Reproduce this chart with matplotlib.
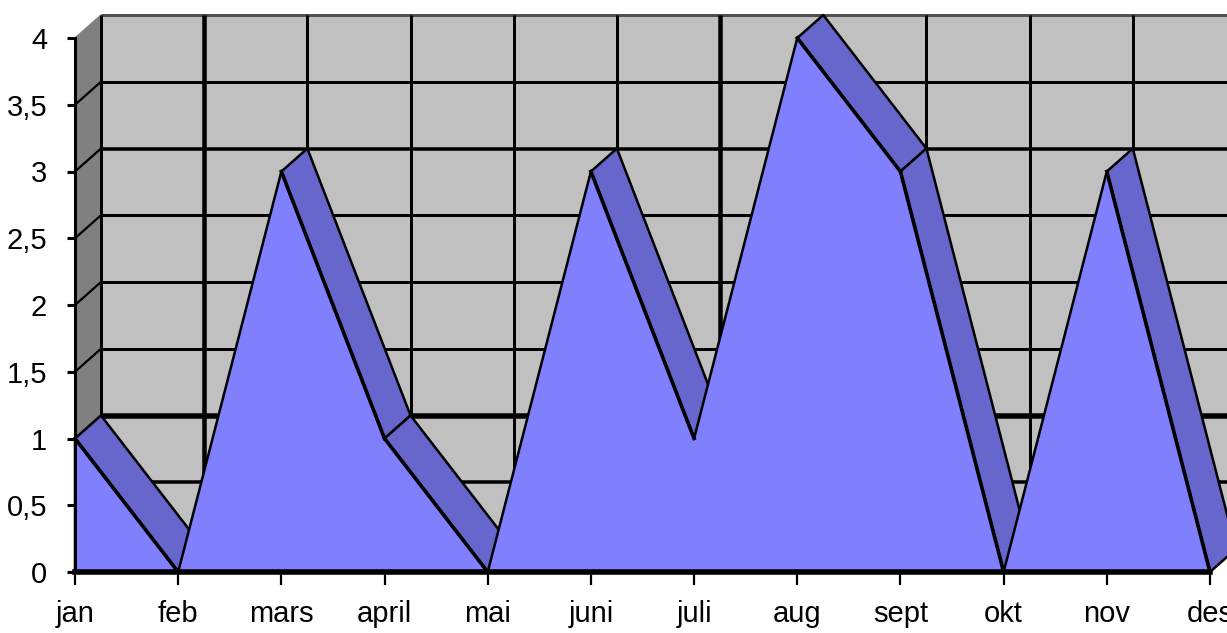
import matplotlib
matplotlib.use("Agg")
import matplotlib.pyplot as plt

months = ["jan", "feb", "mars", "april", "mai", "juni", "juli", "aug", "sept", "okt", "nov", "des"]
values = [1, 0, 3, 1, 0, 3, 1, 4, 3, 0, 3, 0]
y_ticks = [0, 0.5, 1, 1.5, 2, 2.5, 3, 3.5, 4]
y_labels = ["0", "0,5", "1", "1,5", "2", "2,5", "3", "3,5", "4"]

# pixels per data unit, the whole figure is the axes
px_x = 103.18
px_y = 133.5
x0_px = 75
y0_px = 572
# 3d depth
dx = 26 / px_x
dy = 23 / px_y

# line widths in pixels for the back wall grid
hgrid_lw = {0: 3, 0.5: 3.5, 1: 5.5, 1.5: 3, 2: 3, 2.5: 3, 3: 3.5, 3.5: 3, 4: 3}
vgrid_lw = [3, 4.5, 3, 3, 3, 3, 4.5, 2.5, 3, 3, 3, 3]

plt.rcParams["font.family"] = ["Liberation Sans", "DejaVu Sans"]

fig = plt.figure(figsize=(12.27, 6.33), dpi=100)
ax = fig.add_axes([0, 0, 1, 1])
ax.set_xlim(-x0_px / px_x, (1227 - x0_px) / px_x)
ax.set_ylim((y0_px - 633) / px_y, y0_px / px_y)
ax.patch.set_visible(False)

n = len(months) - 1
top = max(y_ticks)

# back wall and side wall
ax.fill([dx, n + dx, n + dx, dx], [dy, dy, top + dy, top + dy], color="#C0C0C0", zorder=1)
ax.fill([0, dx, dx, 0], [0, dy, top + dy, top], color="#808080", zorder=1)

for y in y_ticks:
    color = "#505050" if y == top else "black"
    ax.plot([dx, n + dx], [y + dy, y + dy], color=color, lw=hgrid_lw[y] * 0.72, zorder=1.1,
            solid_capstyle="butt")
    if y != top:
        ax.plot([0, dx], [y, y + dy], color="black", lw=1.6, zorder=1.1)
for i in range(len(months)):
    ax.plot([i + dx, i + dx], [dy, top + dy], color="black", lw=vgrid_lw[i] * 0.72, zorder=1.1,
            solid_capstyle="butt")

# top of the area, only the falling parts can be seen
for i in range(n):
    if values[i + 1] < values[i]:
        ax.fill([i, i + dx, i + 1 + dx, i + 1], [values[i], values[i] + dy, values[i + 1] + dy, values[i + 1]],
                facecolor="#6666CC", edgecolor="black", lw=1.8, zorder=1.5, joinstyle="round")

# front face
xs = list(range(len(months)))
ax.fill([0] + xs + [n], [0] + values + [0], facecolor="#8080FF", edgecolor="black", lw=1.8, zorder=2,
        joinstyle="round")
for i in range(n):
    if values[i + 1] < values[i]:
        ax.plot([i, i + 1], [values[i], values[i + 1]], color="black", lw=2.6, zorder=2.1)

ax.spines["top"].set_visible(False)
ax.spines["right"].set_visible(False)
ax.spines["left"].set_position(("data", 0))
ax.spines["bottom"].set_position(("data", 0))
ax.spines["left"].set_bounds(0, top)
ax.spines["bottom"].set_bounds(0, n)
ax.spines["left"].set_linewidth(2.2)
ax.spines["bottom"].set_linewidth(4)

ax.set_xticks(xs)
ax.set_xticklabels(months)
ax.set_yticks(y_ticks)
ax.set_yticklabels(y_labels)
ax.tick_params(axis="x", length=9, width=1.6, pad=11, labelsize=21)
ax.tick_params(axis="y", length=6, width=2.2, pad=14, labelsize=21)

fig.savefig("out.png", dpi=100, facecolor="white")
